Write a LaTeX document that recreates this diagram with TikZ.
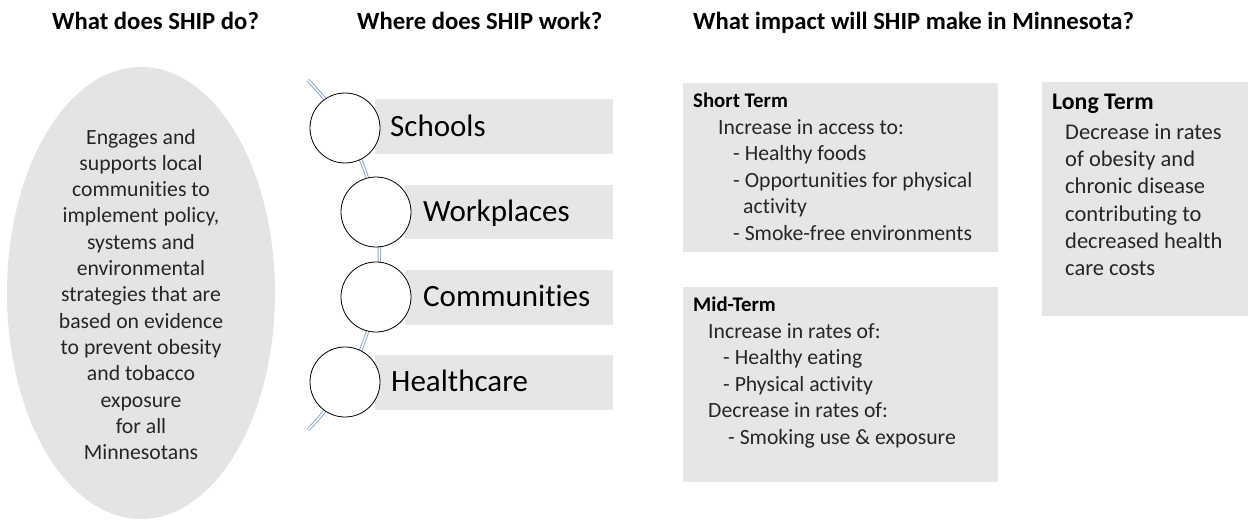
\documentclass[tikz,border=0pt]{standalone}
\usepackage{fontspec}
\setmainfont{Carlito}[Ligatures=NoCommon]
\usetikzlibrary{shapes.geometric}
\definecolor{boxgray}{HTML}{E7E6E6}
\definecolor{ellgray}{HTML}{E4E3E5}
\definecolor{arcblue}{HTML}{8FA9D6}
\definecolor{bodytext}{HTML}{262626}
\begin{document}
\begin{tikzpicture}[x=1pt,y=-1pt,
  hdr/.style={anchor=base west, inner sep=0pt, font=\bfseries\fontsize{24.7}{29}\selectfont, text=black},
  body/.style={inner sep=0pt, font=\fontsize{21.7}{26.5}\selectfont, text=bodytext},
  bodyl/.style={body, anchor=base west},
  bodyc/.style={body, anchor=base},
  ltbody/.style={bodyl, font=\fontsize{22.5}{27.5}\selectfont},
  sub/.style={anchor=base west, inner sep=0pt, font=\bfseries\fontsize{20.8}{25}\selectfont, text=black},
  ltsub/.style={sub, font=\bfseries\fontsize{23.8}{28}\selectfont},
  graybox/.style={fill=boxgray, draw=none, anchor=north west, inner sep=0pt},
  circ/.style={circle, draw=black, line width=0.8pt, fill=white, minimum size=70pt, inner sep=0pt},
  lbl/.style={anchor=base west, inner sep=0pt, font=\fontsize{31}{36}\selectfont, text=black},
  wave/.style={draw=arcblue, double=white, line width=1pt, double distance=1.5pt}
]
\useasboundingbox (0,0) rectangle (1249,519);

% headers
\node[hdr] (h1) at (52,29.3) {What does SHIP do?};
\node[hdr] (h2) at (357,29.3) {Where does SHIP work?};
\node[hdr] (h3) at (693,29.3) {What impact will SHIP make in Minnesota?};

% left ellipse
\node[ellipse, fill=ellgray, draw=none, minimum width=268pt, minimum height=452pt, inner sep=0pt] (ell) at (141,293) {};
\foreach \t [count=\i] in {Engages and, supports local, communities to, {implement policy,}, systems and, environmental, strategies that are, based on evidence, to prevent obesity, and tobacco, exposure, for all, Minnesotans}
  \node[bodyc] (e\i) at (141,{144+26.33*(\i-1)}) {\t};

% middle: bars
\node[graybox, minimum width=238pt, minimum height=55pt] (r1) at (375,99) {};
\node[graybox, minimum width=208pt, minimum height=54pt] (r2) at (405,185) {};
\node[graybox, minimum width=208pt, minimum height=55pt] (r3) at (405,270) {};
\node[graybox, minimum width=238pt, minimum height=55pt] (r4) at (375,355) {};

% arc
\coordinate (arcc) at (130,255);
\draw[wave] (arcc) ++(-44.5:249.5) arc[start angle=-44.5, end angle=44.5, radius=249.5];

% circles
\node[circ] (c1) at (345,128) {};
\node[circ] (c2) at (376,212) {};
\node[circ] (c3) at (376,297) {};
\node[circ] (c4) at (345,382) {};

\node[lbl] (l1) at (390,136.7) {Schools};
\node[lbl] (l2) at (423,221.7) {Workplaces};
\node[lbl] (l3) at (423,306.7) {Communities};
\node[lbl] (l4) at (391,391.7) {Healthcare};

% right boxes
\node[graybox, minimum width=315pt, minimum height=169pt] (st) at (683,83) {};
\node[graybox, minimum width=315pt, minimum height=195pt] (mt) at (683,287) {};
\node[graybox, minimum width=206pt, minimum height=234pt] (lt) at (1042,82) {};

% short term
\node[sub] (st0) at (693,107) {Short Term};
\node[bodyl] (st1) at (718,134) {Increase in access to:};
\node[bodyl] (st2) at (733,160.5) {- Healthy foods};
\node[bodyl] (st3) at (733,187) {- Opportunities for physical};
\node[bodyl] (st4) at (743,213.5) {activity};
\node[bodyl] (st5) at (733,240) {- Smoke-free environments};

% mid term
\node[sub] (mt0) at (693,311.7) {Mid-Term};
\node[bodyl] (mt1) at (708,338) {Increase in rates of:};
\node[bodyl] (mt2) at (723,364.5) {- Healthy eating};
\node[bodyl] (mt3) at (723,391) {- Physical activity};
\node[bodyl] (mt4) at (708,417.5) {Decrease in rates of:};
\node[bodyl] (mt5) at (728,444) {- Smoking use \& exposure};

% long term
\node[ltsub] (lt0) at (1052,109.3) {Long Term};
\foreach \t [count=\i] in {Decrease in rates, of obesity and, chronic disease, contributing to, decreased health, care costs}
  \node[ltbody] (lt\i) at (1065,{139.3+27.3*(\i-1)}) {\t};
\end{tikzpicture}
\end{document}
